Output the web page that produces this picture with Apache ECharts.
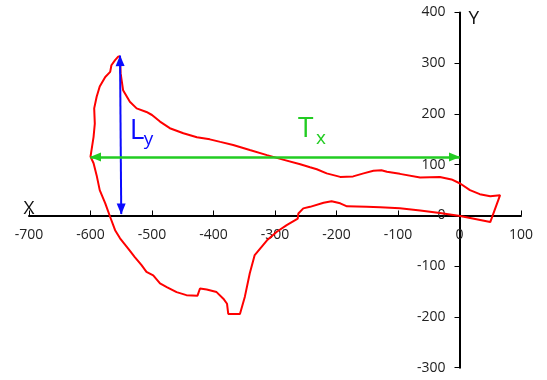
<!DOCTYPE html>
<html><head><meta charset="utf-8">
<script src="https://cdn.jsdelivr.net/npm/echarts@6/dist/echarts.min.js"></script>
<style>html,body{margin:0;padding:0;background:#fff}#c{width:547px;height:380px}</style>
</head><body><div id="c"></div>
<script>
// tick labels
const xTicks = [-700, -600, -500, -400, -300, -200, -100, 0, 100];
const yTicks = [-300, -200, -100, 0, 100, 200, 300, 400];
// red closed loop
const loopX = [-552,-551,-547,-536,-525,-509,-500,-487,-471,-449,-427,-406,-389,-368,-341,-313,-287,-259,-243,-232,-216,-194,-173,-156,-140,-127,-118,-97,-64,-32,-13,1,17,33,50,66,
  50,1,-32,-64,-97,-129,-151,-183,-194,-208,-221,-243,-254,-262,-263,-262,-281,-297,-313,-333,-341,-349,-357,-376,-378,-384,-395,-411,-422,-426,-444,-460,-476,-487,-498,-509,-517,-528,-539,-552,-560,-568,-576,-585,-590,-595,-600,-601,-595,-593,-594,-590,-585,-576,-568,-566,-560,-555,-552];
const loopY = [314,280,247,224,211,204,198,185,172,162,154,150,145,139,129,119,110,101,95,91,83,76,77,83,88,89,86,82,75,76,71,63,50,42,38,40,
  -13,-1,5,10,14,16,17,18,24,28,25,17,14,4,-6,-9,-19,-32,-49,-78,-114,-160,-194,-194,-174,-164,-151,-146,-144,-158,-157,-151,-141,-134,-118,-111,-98,-82,-65,-45,-29,-3,24,50,79,103,116,119,155,181,211,234,254,273,283,296,306,313,314];
// blue arrow L_y
const lyX = [-552, -550];
const lyY = [315, 3];
// green arrow T_x
const txX = [-600, 0];
const txY = [115, 115];

const FONT = 'Open Sans';
const RED = '#ff0000', BLUE = '#0a0aff', GREEN = '#22cc22';
const W = 547, H = 380;
const G = {left: 29, right: 26, top: 12.5, bottom: 12.3};
const loopData = loopX.map((x, i) => [x, loopY[i]]);
const lyMid = [(lyX[0] + lyX[1]) / 2, (lyY[0] + lyY[1]) / 2];
const txMid = [(txX[0] + txX[1]) / 2, (txY[0] + txY[1]) / 2];
const xMin = xTicks[0], xMax = xTicks[xTicks.length - 1];
const yMin = yTicks[0], yMax = yTicks[yTicks.length - 1];
// move the axes (with their labels) onto the zero lines
const gridW = W - G.left - G.right, gridH = H - G.top - G.bottom;
const xAxisOffset = -gridH * (0 - yMin) / (yMax - yMin);
const yAxisOffset = -gridW * (0 - xMin) / (xMax - xMin);

const chart = echarts.init(document.getElementById('c'), null, {renderer: 'canvas'});
chart.setOption({
  animation: false,
  backgroundColor: '#fff',
  grid: Object.assign({containLabel: false, outerBoundsMode: 'none'}, G),
  xAxis: {
    type: 'value', min: xMin, max: xMax, interval: xTicks[1] - xTicks[0],
    position: 'bottom', offset: xAxisOffset,
    name: 'X', nameLocation: 'start', nameGap: 0, nameMoveOverlap: false,
    nameTextStyle: {fontFamily: FONT, fontSize: 19, color: '#111', align: 'center', verticalAlign: 'bottom', padding: [0, 0, -3, 0]},
    axisLine: {onZero: false, lineStyle: {color: '#000', width: 2}},
    axisTick: {inside: true, length: 5, lineStyle: {color: '#000', width: 1}},
    axisLabel: {fontFamily: FONT, fontSize: 14, color: '#222', margin: 13},
    splitLine: {show: false}
  },
  yAxis: {
    type: 'value', min: yMin, max: yMax, interval: yTicks[1] - yTicks[0],
    position: 'left', offset: yAxisOffset,
    name: 'Y', nameLocation: 'end', nameGap: -6, nameMoveOverlap: false,
    nameTextStyle: {fontFamily: FONT, fontSize: 19, color: '#111', align: 'left', verticalAlign: 'middle', padding: [0, 0, 0, 9]},
    axisLine: {onZero: false, lineStyle: {color: '#000', width: 2}},
    axisTick: {length: 5, lineStyle: {color: '#000', width: 1}},
    axisLabel: {fontFamily: FONT, fontSize: 14, color: '#222', margin: 14},
    splitLine: {show: false}
  },
  series: [
    {
      type: 'line', data: loopData, showSymbol: false, symbol: 'none', smooth: false,
      lineStyle: {color: RED, width: 2}, z: 3
    },
    {
      type: 'line', data: [], z: 4,
      markLine: {
        silent: true, animation: false, symbol: ['triangle', 'triangle'], symbolSize: [9, 11], symbolOffset: [[0, 5], [0, 5]],
        label: {show: false},
        lineStyle: {color: BLUE, width: 2, type: 'solid'},
        data: [[{coord: [lyX[0], lyY[0]]}, {coord: [lyX[1], lyY[1]]}]]
      },
      markPoint: {
        silent: true, animation: false, symbolSize: 0,
        data: [
          {coord: lyMid, label: {show: true, formatter: 'L', position: [9, -4], align: 'left', verticalAlign: 'middle', fontFamily: FONT, fontSize: 28, color: BLUE}},
          {coord: lyMid, label: {show: true, formatter: 'y', position: [23, 5], align: 'left', verticalAlign: 'middle', fontFamily: FONT, fontSize: 19, color: BLUE}}
        ]
      }
    },
    {
      type: 'line', data: [], z: 4,
      markLine: {
        silent: true, animation: false, symbol: ['triangle', 'triangle'], symbolSize: [9, 11], symbolOffset: [[0, 5], [0, 5]],
        label: {show: false},
        lineStyle: {color: GREEN, width: 2.5, type: 'solid'},
        data: [[{coord: [txX[0], txY[0]]}, {coord: [txX[1], txY[1]]}]]
      },
      markPoint: {
        silent: true, animation: false, symbolSize: 0,
        data: [
          {coord: txMid, label: {show: true, formatter: 'T', position: [23, -28], align: 'left', verticalAlign: 'middle', fontFamily: FONT, fontSize: 28, color: GREEN}},
          {coord: txMid, label: {show: true, formatter: 'x', position: [41, -19], align: 'left', verticalAlign: 'middle', fontFamily: FONT, fontSize: 19, color: GREEN}}
        ]
      }
    }
  ]
});
</script></body></html>
